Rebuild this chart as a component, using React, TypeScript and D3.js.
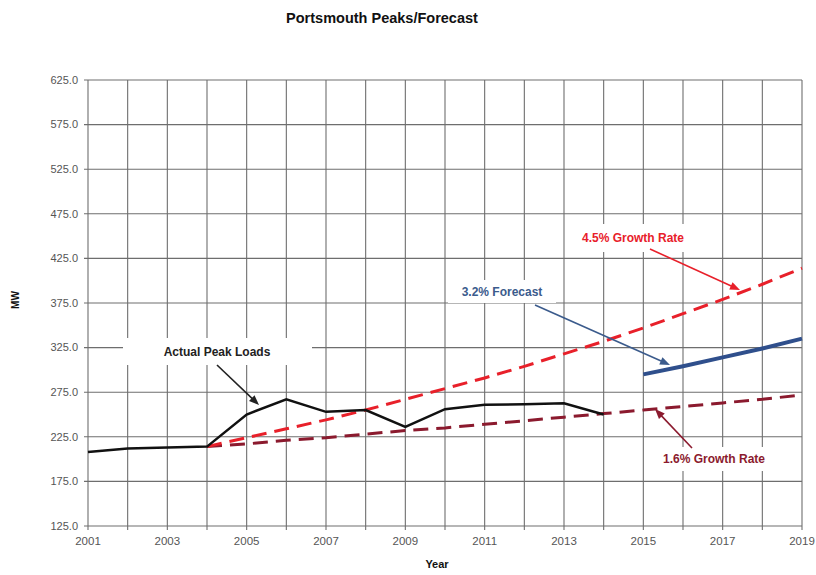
import React from "react";
import * as d3 from "d3";

const years = [2001, 2002, 2003, 2004, 2005, 2006, 2007, 2008, 2009, 2010, 2011, 2012, 2013, 2014, 2015, 2016, 2017, 2018, 2019];
const yTicks = [125, 175, 225, 275, 325, 375, 425, 475, 525, 575, 625];
const xLabelYears = [2001, 2003, 2005, 2007, 2009, 2011, 2013, 2015, 2017, 2019];

const actualYears = [2001, 2002, 2003, 2004, 2005, 2006, 2007, 2008, 2009, 2010, 2011, 2012, 2013, 2014];
const actualValues = [208, 212, 213, 214, 250, 267, 253, 255, 236, 256, 261, 261.5, 262.5, 250];

const growthYears = [2004, 2005, 2006, 2007, 2008, 2009, 2010, 2011, 2012, 2013, 2014, 2015, 2016, 2017, 2018, 2019];
const growth45Values = [214, 224, 234, 244, 255, 267, 279, 291, 304, 318, 332, 347, 363, 379, 396, 414];
const growth16Values = [214, 217, 221, 224, 228, 232, 235, 239, 243, 247, 251, 255, 259, 263, 267, 272];

const forecastYears = [2015, 2016, 2017, 2018, 2019];
const forecastValues = [295, 304, 314, 324, 335];

const FONT = "'Liberation Sans', Arial, sans-serif";

type Ann = { text: string; color: string; tx: number; ty: number; bx: number; by: number; bw: number; bh: number; ax1: number; ay1: number; ax2: number; ay2: number; lw: number };

export default function App() {
  const x = d3.scaleLinear().domain([2001, 2019]).range([88, 802]);
  const y = d3.scaleLinear().domain([125, 625]).range([526, 80]);

  const line = (xs: number[], vs: number[]) =>
    d3.line<number>().x((_, i) => x(xs[i])).y((d) => y(d))(vs) || "";

  const anns: Ann[] = [
    { text: "Actual Peak Loads", color: "#222", tx: 217, ty: 352, bx: 123, by: 338, bw: 189, bh: 27, ax1: 217, ay1: 365, ax2: 259, ay2: 405, lw: 1.6 },
    { text: "4.5% Growth Rate", color: "#e8202a", tx: 633, ty: 238, bx: 566, by: 224, bw: 134, bh: 28, ax1: 650, ay1: 249, ax2: 740, ay2: 290, lw: 1.6 },
    { text: "3.2% Forecast", color: "#3b5b8c", tx: 502, ty: 292, bx: 448, by: 280, bw: 108, bh: 23, ax1: 535, ay1: 305, ax2: 670, ay2: 365, lw: 1.6 },
    { text: "1.6% Growth Rate", color: "#8b1a2e", tx: 714, ty: 459, bx: 648, by: 447, bw: 140, bh: 24, ax1: 692, ay1: 448, ax2: 655, ay2: 409, lw: 1.6 },
  ];

  const arrowHead = (a: Ann) => {
    const ang = Math.atan2(a.ay2 - a.ay1, a.ax2 - a.ax1);
    const L = 10, W = 4;
    const bx = a.ax2 - L * Math.cos(ang), by = a.ay2 - L * Math.sin(ang);
    const px = -Math.sin(ang) * W, py = Math.cos(ang) * W;
    return `M${a.ax2},${a.ay2}L${bx + px},${by + py}L${bx - px},${by - py}Z`;
  };

  return (
    <svg width={816} height={575} style={{ display: "block", margin: 0, position: "absolute", left: 0, top: 0 }}>
      <rect x={0} y={0} width={816} height={575} fill="#fff" />
      {years.map((yr) => (
        <line key={"v" + yr} x1={x(yr)} x2={x(yr)} y1={y(625)} y2={y(125) + 4} stroke="#6e6e6e" strokeWidth={1.1} />
      ))}
      {yTicks.map((t) => (
        <line key={"h" + t} x1={x(2001) - 4} x2={x(2019)} y1={y(t)} y2={y(t)} stroke="#6e6e6e" strokeWidth={1.1} />
      ))}
      {yTicks.map((t) => (
        <text key={"yl" + t} x={78} y={y(t)} dy="0.35em" textAnchor="end" fontFamily={FONT} fontSize={11} fill="#555">
          {t.toFixed(1)}
        </text>
      ))}
      {xLabelYears.map((yr) => (
        <text key={"xl" + yr} x={x(yr)} y={541} dy="0.35em" textAnchor="middle" fontFamily={FONT} fontSize={11.5} fill="#555">
          {yr}
        </text>
      ))}
      {anns.map((a) => (
        <rect key={"b" + a.text} x={a.bx} y={a.by} width={a.bw} height={a.bh} fill="#fff" />
      ))}
      <path d={line(growthYears, growth16Values)} fill="none" stroke="#8b1a2e" strokeWidth={3} strokeDasharray="15,8" />
      <path d={line(growthYears, growth45Values)} fill="none" stroke="#e8202a" strokeWidth={3} strokeDasharray="15,8" />
      <path d={line(actualYears, actualValues)} fill="none" stroke="#111" strokeWidth={2.5} />
      <path d={line(forecastYears, forecastValues)} fill="none" stroke="#2f4f8c" strokeWidth={4} />
      {anns.map((a) => {
        const ang = Math.atan2(a.ay2 - a.ay1, a.ax2 - a.ax1);
        return (
          <g key={"a" + a.text}>
            <text x={a.tx} y={a.ty} dy="0.35em" textAnchor="middle" fontFamily={FONT} fontSize={12} fontWeight="bold" fill={a.color}>
              {a.text}
            </text>
            <line x1={a.ax1} y1={a.ay1} x2={a.ax2 - 6 * Math.cos(ang)} y2={a.ay2 - 6 * Math.sin(ang)} stroke={a.color} strokeWidth={a.lw} />
            <path d={arrowHead(a)} fill={a.color} />
          </g>
        );
      })}
      <text x={382} y={18} dy="0.35em" textAnchor="middle" fontFamily={FONT} fontSize={14.5} fontWeight="bold" fill="#111">
        Portsmouth Peaks/Forecast
      </text>
      <text transform="translate(15,300) rotate(-90)" dy="0.35em" textAnchor="middle" fontFamily={FONT} fontSize={10} fontWeight="bold" fill="#111">
        MW
      </text>
      <text x={437} y={564} dy="0.35em" textAnchor="middle" fontFamily={FONT} fontSize={11} fontWeight="bold" fill="#111">
        Year
      </text>
    </svg>
  );
}
